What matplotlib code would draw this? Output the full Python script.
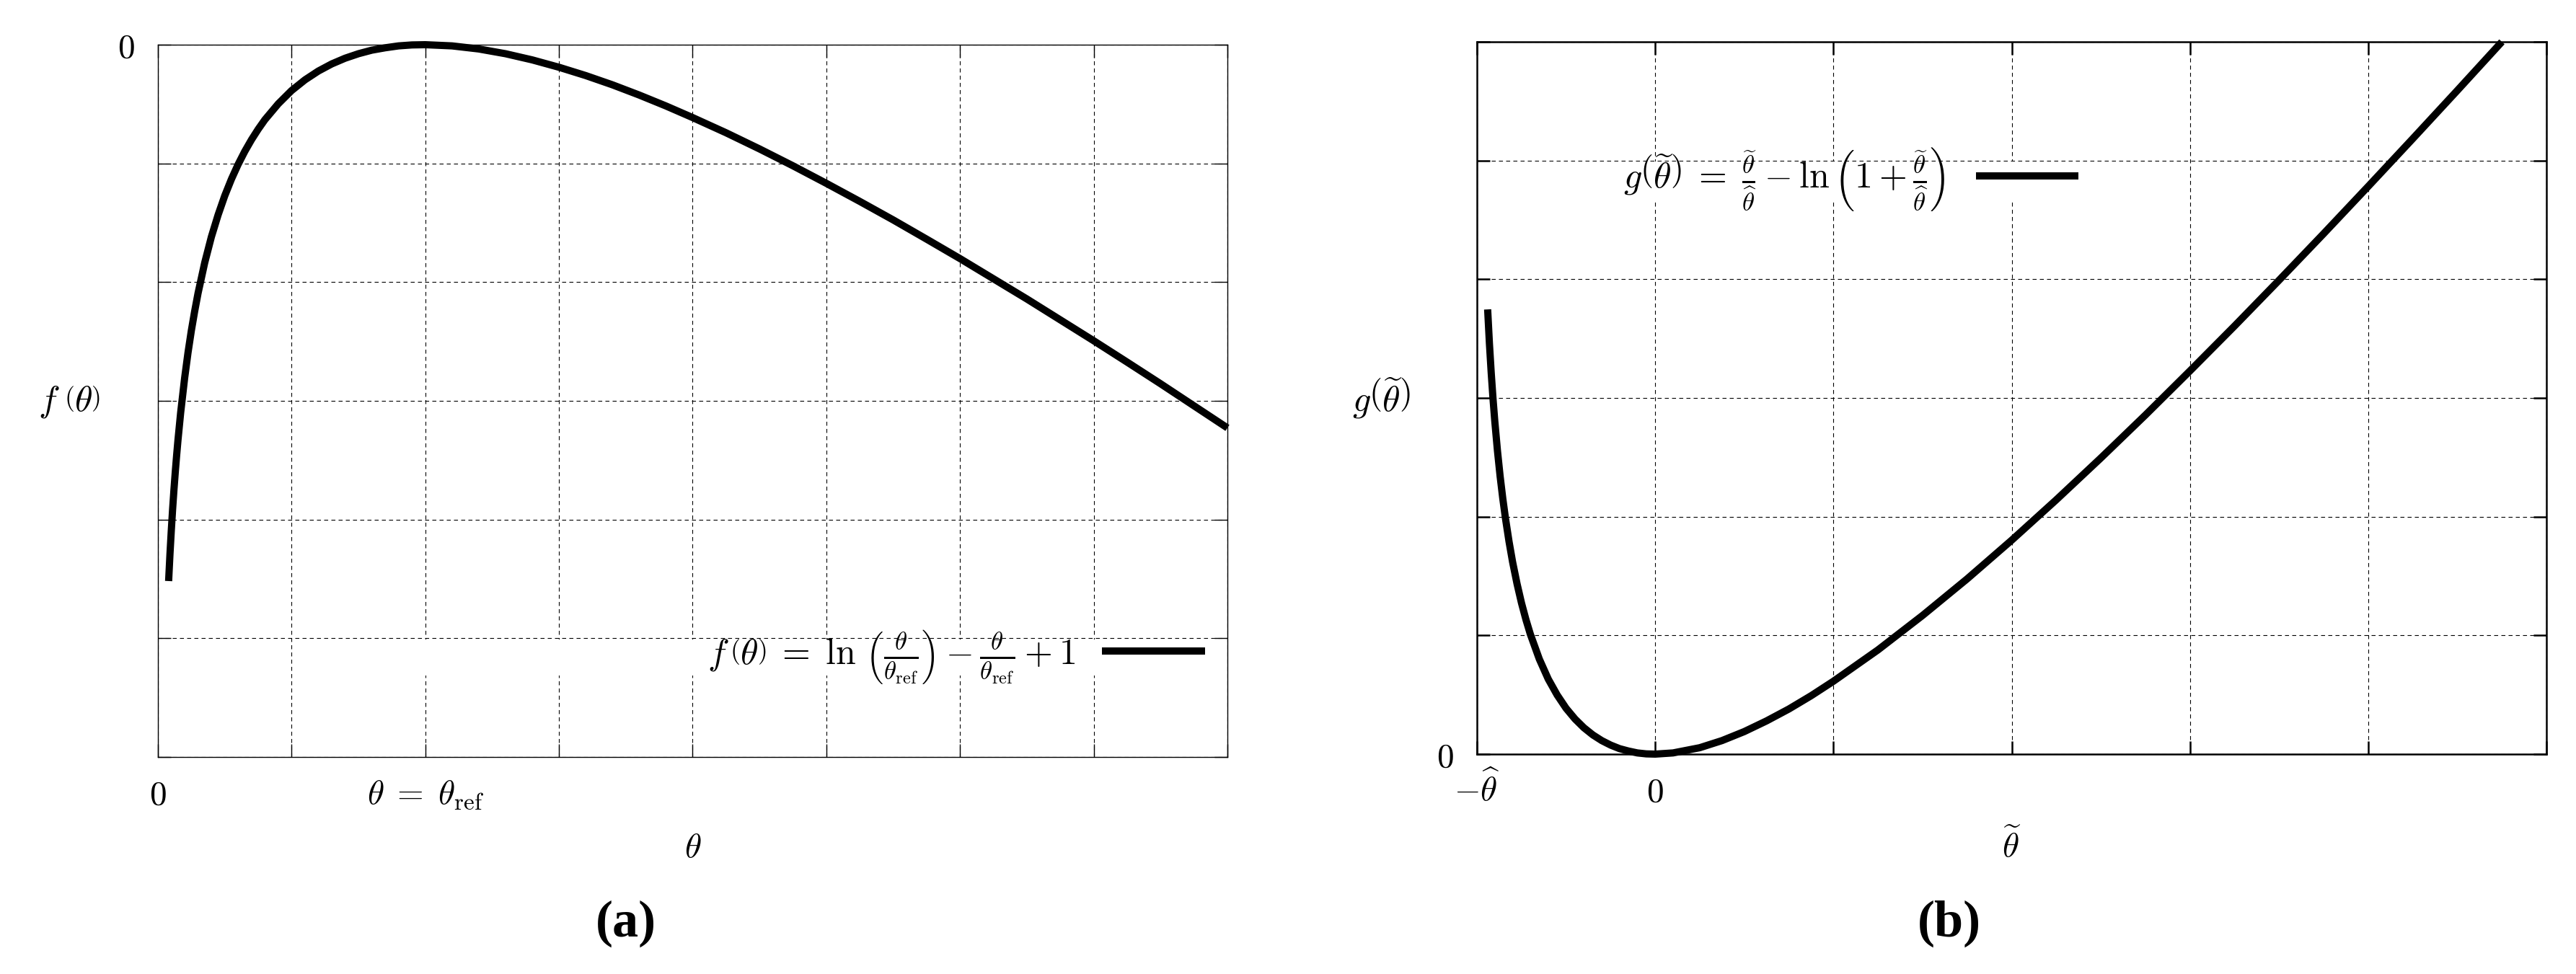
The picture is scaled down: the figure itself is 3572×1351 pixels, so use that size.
import matplotlib
matplotlib.use("Agg")
import matplotlib.pyplot as plt
from matplotlib.patches import Rectangle

plt.rcParams["mathtext.fontset"] = "cm"
plt.rcParams["font.family"] = ["DejaVu Serif"]

# (a) f(theta), theta in grid units (theta_ref = 2)
theta_a = [0.08, 0.09, 0.10, 0.11, 0.12, 0.13, 0.14, 0.15, 0.17, 0.20, 0.225,
           0.25, 0.275, 0.30, 0.35, 0.40, 0.45, 0.50, 0.55, 0.60, 0.65, 0.70,
           0.75, 0.80, 0.9, 1.0, 1.1, 1.2, 1.3, 1.4, 1.5, 1.6, 1.7, 1.8, 1.9,
           2.0, 2.2, 2.4, 2.6, 2.8, 3.0, 3.2, 3.4, 3.6, 3.8, 4.0, 4.25, 4.5,
           4.75, 5.0, 5.25, 5.5, 5.75, 6.0, 6.25, 6.5, 6.75, 7.0, 7.25, 7.5,
           7.75, 8.0]
f_a = [-2.259, -2.146, -2.046, -1.955, -1.873, -1.798, -1.729, -1.665, -1.550,
       -1.403, -1.297, -1.204, -1.122, -1.047, -0.918, -0.809, -0.717, -0.636,
       -0.566, -0.504, -0.449, -0.400, -0.356, -0.316, -0.249, -0.193, -0.148,
       -0.111, -0.081, -0.057, -0.038, -0.023, -0.013, -0.005, -0.001, 0.0,
       -0.005, -0.018, -0.038, -0.064, -0.095, -0.130, -0.169, -0.212, -0.258,
       -0.307, -0.371, -0.439, -0.510, -0.584, -0.660, -0.738, -0.819, -0.901,
       -0.986, -1.071, -1.159, -1.247, -1.337, -1.428, -1.521, -1.614]

# (b) g(theta~), theta~ in units of theta^
theta_b = [-0.94, -0.93, -0.92, -0.91, -0.90, -0.885, -0.87, -0.855, -0.84,
           -0.82, -0.80, -0.775, -0.75, -0.725, -0.70, -0.65, -0.60, -0.55,
           -0.50, -0.45, -0.40, -0.35, -0.30, -0.25, -0.20, -0.15, -0.10, -0.05,
           0.0, 0.1, 0.25, 0.375, 0.50, 0.625, 0.75, 0.875, 1.0, 1.25, 1.5,
           1.75, 2.0, 2.25, 2.5, 2.75, 3.0, 3.25, 3.5, 3.75, 4.0, 4.25, 4.5,
           4.75]
g_b = [1.873, 1.729, 1.606, 1.498, 1.403, 1.278, 1.170, 1.076, 0.993, 0.895,
       0.809, 0.717, 0.636, 0.566, 0.504, 0.400, 0.316, 0.249, 0.193, 0.148,
       0.111, 0.081, 0.057, 0.038, 0.023, 0.013, 0.005, 0.001, 0.0, 0.005,
       0.027, 0.057, 0.095, 0.140, 0.190, 0.246, 0.307, 0.439, 0.584, 0.738,
       0.901, 1.071, 1.247, 1.428, 1.614, 1.803, 1.996, 2.192, 2.391, 2.592,
       2.795, 3.0]

xticks_a = [0, 1, 2, 3, 4, 5, 6, 7, 8]
xlabels_a = [r"$0$", "", r"$\theta\;=\;\theta_{\mathrm{ref}}$", "", "", "", "", "", ""]
yticks_a = [-3.0, -2.5, -2.0, -1.5, -1.0, -0.5, 0.0]
ylabels_a = ["", "", "", "", "", "", r"$0$"]

xticks_b = [-1, 0, 1, 2, 3, 4, 5]
xlabels_b = [r"$-\widehat{\theta}$", r"$0$", "", "", "", "", ""]
yticks_b = [0.0, 0.5, 1.0, 1.5, 2.0, 2.5, 3.0]
ylabels_b = [r"$0$", "", "", "", "", "", ""]

label_a = (r"$f\,\left(\theta\right)\;=\;\ln\,\left(\frac{\theta}{\theta_{\mathrm{ref}}}\right)"
           r"-\frac{\theta}{\theta_{\mathrm{ref}}}+1$")
label_b = (r"$g\left(\widetilde{\theta}\right)\;=\;\frac{\widetilde{\theta}}{\widehat{\theta}}"
           r"-\ln\left(1+\frac{\widetilde{\theta}}{\widehat{\theta}}\right)$")

FS = 34
LFS = 36
fig = plt.figure(figsize=(35.73, 13.51), dpi=100)
ax1 = fig.add_axes([0.06129, 0.22280, 0.41506, 0.73131])
ax2 = fig.add_axes([0.57319, 0.22576, 0.41506, 0.73131])


def style(ax, spine_w):
    ax.set_axisbelow(True)
    ax.grid(True, color="black", linewidth=0.8, linestyle=(0, (5, 4)))
    for s in ax.spines.values():
        s.set_linewidth(spine_w)
    ax.tick_params(direction="in", top=True, right=True, length=13,
                   width=spine_w, labelsize=FS)
    ax.tick_params(axis="x", pad=47)
    ax.tick_params(axis="y", pad=23)


# panel (a)
style(ax1, 1.0)
ax1.plot(theta_a, f_a, color="black", linewidth=7.2, clip_on=False,
         solid_capstyle="butt", solid_joinstyle="round", label=label_a, zorder=3)
ax1.set_xlim(0, 8)
ax1.set_ylim(-3, 0)
ax1.set_xticks(xticks_a, xlabels_a, va="baseline")
ax1.set_yticks(yticks_a, ylabels_a)
ax1.add_patch(Rectangle((0.176, 0.114), 0.82, 0.051, transform=ax1.transAxes,
                        facecolor="white", edgecolor="none", zorder=1))
ax1.legend(loc="center right", bbox_to_anchor=(0.979, 0.141), frameon=False,
           fontsize=LFS, markerfirst=False, handlelength=2.85,
           handletextpad=0.75, borderpad=0, borderaxespad=0)
ax1.set_xlabel(r"$\theta$", fontsize=FS, va="baseline")
ax1.xaxis.set_label_coords(0.5, -0.1407)
ax1.set_ylabel(r"$f\;\left(\theta\right)$", fontsize=36, rotation=0,
               ha="center", va="center")
ax1.yaxis.set_label_coords(-0.083, 0.499)

# panel (b)
style(ax2, 1.8)
ax2.plot(theta_b, g_b, color="black", linewidth=7.2, clip_on=False,
         solid_capstyle="butt", solid_joinstyle="round", label=label_b, zorder=3)
ax2.set_xlim(-1, 5)
ax2.set_ylim(0, 3)
ax2.set_xticks(xticks_b, xlabels_b, va="baseline")
ax2.set_yticks(yticks_b, ylabels_b)
ax2.add_patch(Rectangle((0.035, 0.777), 0.573, 0.055, transform=ax2.transAxes,
                        facecolor="white", edgecolor="none", zorder=1))
ax2.legend(loc="center right", bbox_to_anchor=(0.5624, 0.807), frameon=False,
           fontsize=LFS, markerfirst=False, handlelength=2.85,
           handletextpad=0.85, borderpad=0, borderaxespad=0)
ax2.set_xlabel(r"$\widetilde{\theta}$", fontsize=FS, va="baseline")
ax2.xaxis.set_label_coords(0.5, -0.1447)
ax2.set_ylabel(r"$g\left(\widetilde{\theta}\right)$", fontsize=36, rotation=0,
               ha="center", va="center")
ax2.yaxis.set_label_coords(-0.0897, 0.5)

fig.text(868 / 3573, 1 - 1281 / 1351, "(a)", fontsize=52, fontweight="bold",
         family="Liberation Serif", ha="center", va="center")
fig.text(2703 / 3573, 1 - 1281 / 1351, "(b)", fontsize=52, fontweight="bold",
         family="Liberation Serif", ha="center", va="center")

fig.savefig("out.png", dpi=100)
